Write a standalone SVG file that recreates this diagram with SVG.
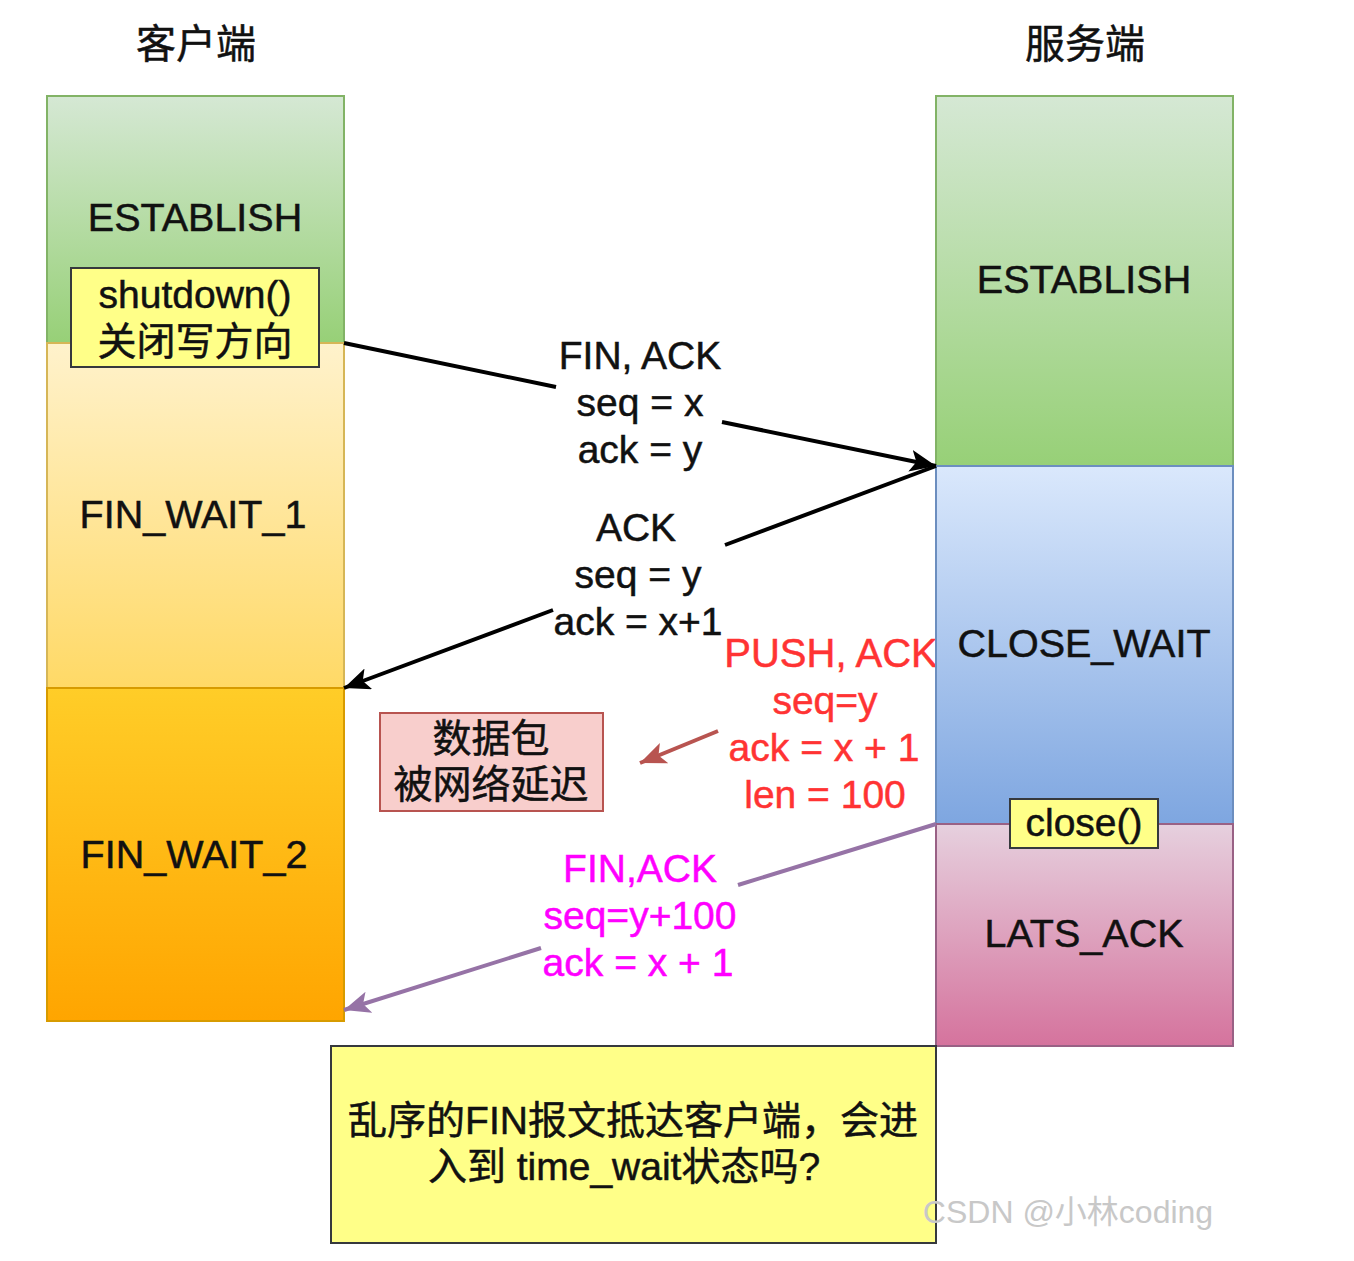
<svg xmlns="http://www.w3.org/2000/svg" width="1354" height="1261" viewBox="0 0 1354 1261">
<style>
text{font-family:"Liberation Sans","Noto Sans CJK SC",sans-serif;text-anchor:middle;stroke-width:0.5;}
.t{font-size:39.5px;fill:#111;stroke:#111;}
.h{font-size:40px;fill:#111;stroke:#111;}
.m{font-size:39px;fill:#111;stroke:#111;}
.r{font-size:39px;fill:#f33;stroke:#f33;}
.p{font-size:39px;fill:#f0f;stroke:#f0f;}
.col{stroke-width:2;}
.conn{fill:none;stroke-width:4;}
</style>
<defs>
<linearGradient id="gGreen" x1="0" y1="0" x2="0" y2="1"><stop offset="0" stop-color="#d5e8d4"/><stop offset="1" stop-color="#97d077"/></linearGradient>
<linearGradient id="gYellow" x1="0" y1="0" x2="0" y2="1"><stop offset="0" stop-color="#fff2cc"/><stop offset="1" stop-color="#ffd966"/></linearGradient>
<linearGradient id="gOrange" x1="0" y1="0" x2="0" y2="1"><stop offset="0" stop-color="#ffcd28"/><stop offset="1" stop-color="#ffa500"/></linearGradient>
<linearGradient id="gBlue" x1="0" y1="0" x2="0" y2="1"><stop offset="0" stop-color="#dae8fc"/><stop offset="1" stop-color="#7ea6e0"/></linearGradient>
<linearGradient id="gPink" x1="0" y1="0" x2="0" y2="1"><stop offset="0" stop-color="#e6d0de"/><stop offset="1" stop-color="#d5739d"/></linearGradient>
<marker id="aBlack" markerUnits="userSpaceOnUse" markerWidth="30" markerHeight="24" refX="26" refY="11" orient="auto"><path d="M0,0 L26,11 L0,22 L6,11 Z" fill="#000"/></marker>
<marker id="aRed" markerUnits="userSpaceOnUse" markerWidth="30" markerHeight="24" refX="26" refY="11" orient="auto"><path d="M0,0 L26,11 L0,22 L6,11 Z" fill="#b85450"/></marker>
<marker id="aPurple" markerUnits="userSpaceOnUse" markerWidth="30" markerHeight="24" refX="26" refY="11" orient="auto"><path d="M0,0 L26,11 L0,22 L6,11 Z" fill="#9673a6"/></marker>
</defs>
<rect width="1354" height="1261" fill="#fff"/>

<g id="client-title"><text class="h" x="196" y="58">客户端</text></g>
<g id="server-title"><text class="h" x="1085" y="58">服务端</text></g>

<g id="label-push">
<text class="r" x="831" y="667" style="font-size:40px">PUSH, ACK</text>
<text class="r" x="825" y="714">seq=y</text>
<text class="r" x="824" y="761">ack = x + 1</text>
<text class="r" x="825" y="808">len = 100</text>
</g>

<g id="c-establish"><rect class="col" x="47" y="96" width="297" height="247" fill="url(#gGreen)" stroke="#82b366"/><text class="t" x="195" y="231">ESTABLISH</text></g>
<g id="c-finwait1"><rect class="col" x="47" y="343" width="297" height="345" fill="url(#gYellow)" stroke="#d6b656"/><text class="t" x="193" y="528">FIN_WAIT_1</text></g>
<g id="c-finwait2"><rect class="col" x="47" y="688" width="297" height="333" fill="url(#gOrange)" stroke="#d79b00"/><text class="t" x="194" y="868">FIN_WAIT_2</text></g>
<g id="shutdown"><rect x="71" y="268" width="248" height="99" fill="#ffff88" stroke="#36393d" stroke-width="2"/><text class="m" x="195" y="308">shutdown()</text><text class="m" x="195" y="355">关闭写方向</text></g>

<g id="s-establish"><rect class="col" x="936" y="96" width="297" height="370" fill="url(#gGreen)" stroke="#82b366"/><text class="t" x="1084" y="293">ESTABLISH</text></g>
<g id="s-closewait"><rect class="col" x="936" y="466" width="297" height="358" fill="url(#gBlue)" stroke="#6c8ebf"/><text class="t" x="1084" y="657">CLOSE_WAIT</text></g>
<g id="s-lastack"><rect class="col" x="936" y="824" width="297" height="222" fill="url(#gPink)" stroke="#996185"/><text class="t" x="1084" y="947">LATS_ACK</text></g>
<g id="close"><rect x="1010" y="799" width="148" height="49" fill="#ffff88" stroke="#36393d" stroke-width="2"/><text class="m" x="1084" y="836">close()</text></g>

<g id="delayed"><rect x="380" y="713" width="223" height="98" fill="#f8cecc" stroke="#b85450" stroke-width="2"/><text class="m" x="491" y="752">数据包</text><text class="m" x="491" y="798">被网络延迟</text></g>

<g id="question"><rect x="331" y="1046" width="605" height="197" fill="#ffff88" stroke="#36393d" stroke-width="2"/><text class="m" x="633" y="1134">乱序的FIN报文抵达客户端，会进</text><text class="m" x="624" y="1180">入到 time_wait状态吗?</text></g>

<g id="connectors">
<line class="conn" x1="344" y1="343" x2="556" y2="387" stroke="#000"/>
<line class="conn" x1="722" y1="422" x2="936" y2="466" stroke="#000" marker-end="url(#aBlack)"/>
<line class="conn" x1="936" y1="466" x2="725" y2="545" stroke="#000"/>
<line class="conn" x1="553" y1="610" x2="344" y2="688" stroke="#000" marker-end="url(#aBlack)"/>
<line class="conn" x1="718" y1="731" x2="640" y2="763" stroke="#b85450" stroke-width="3.5" marker-end="url(#aRed)"/>
<line class="conn" x1="936" y1="824" x2="738" y2="885" stroke="#9673a6" stroke-width="3.5"/>
<line class="conn" x1="541" y1="948" x2="344" y2="1010" stroke="#9673a6" stroke-width="3.5" marker-end="url(#aPurple)"/>
</g>

<g id="label-finack">
<text class="m" x="640" y="369">FIN, ACK</text>
<text class="m" x="640" y="416">seq = x</text>
<text class="m" x="640" y="463">ack = y</text>
</g>
<g id="label-ack">
<text class="m" x="636" y="541">ACK</text>
<text class="m" x="638" y="588">seq = y</text>
<text class="m" x="638" y="635">ack = x+1</text>
</g>
<g id="label-fin2">
<text class="p" x="640" y="882">FIN,ACK</text>
<text class="p" x="640" y="929">seq=y+100</text>
<text class="p" x="638" y="976">ack = x + 1</text>
</g>
<g id="watermark"><text x="1068" y="1223" style="font-size:32px;fill:#c8c8c8;">CSDN @小林coding</text></g>
</svg>
